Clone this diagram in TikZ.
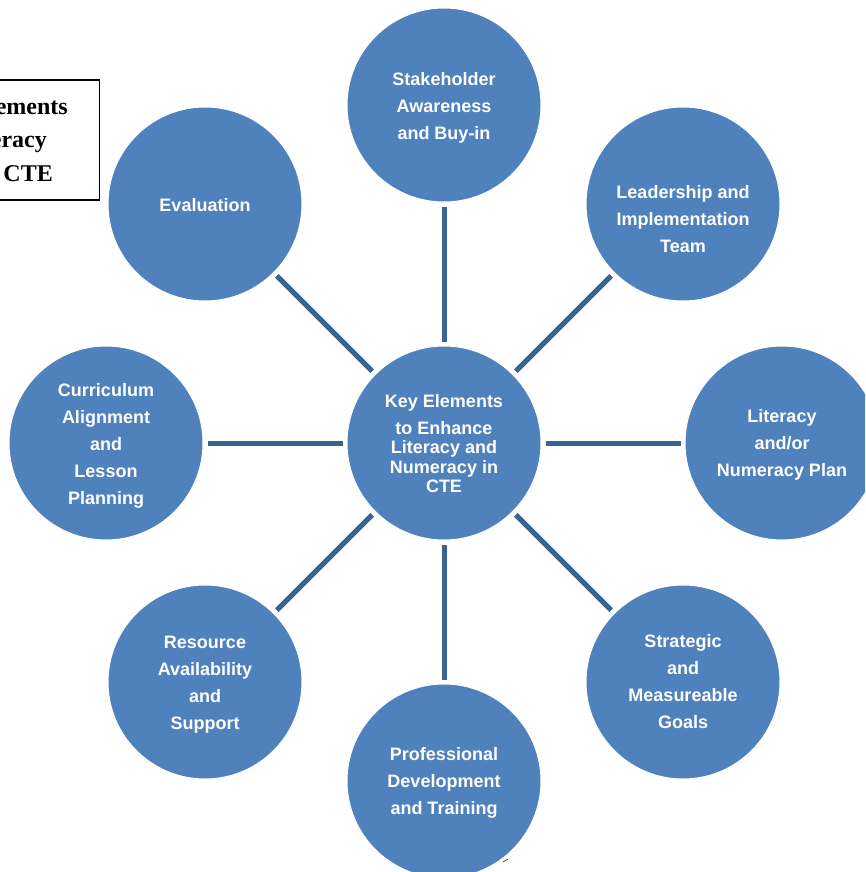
\documentclass[tikz,border=0pt]{standalone}
\usepackage{fontspec}
\setsansfont{Liberation Sans}
\newfontfamily\boxfont{Liberation Serif}
\definecolor{bubblefill}{RGB}{79,129,189}
\definecolor{spokecol}{RGB}{58,99,149}
\tikzset{
  bubble/.style={circle, fill=bubblefill, draw=white, line width=1pt,
    minimum size=194pt, inner sep=0pt},
  bubbletext/.style={text=white, align=center, inner sep=0pt,
    font=\sffamily\bfseries\fontsize{18}{27}\selectfont},
  hubtext/.style={font=\sffamily\bfseries\fontsize{18}{19.5}\selectfont},
  spokeline/.style={draw=spokecol, line width=5pt, shorten >=4pt, shorten <=4pt},
  titleline/.style={anchor=base east, inner sep=0pt,
    font=\boxfont\bfseries\fontsize{24}{24}\selectfont}
}
\begin{document}
\begin{tikzpicture}[x=1pt,y=-1pt]
\useasboundingbox (0,0) rectangle (865,872);
\clip (0,0) rectangle (865,872);

% title box, running off the left edge
\draw[line width=1.3pt] (-250,80) rectangle (99.5,200);
\node[titleline] (t1) at (68,114) {Key Elements};
\node[titleline] (t2) at (47,147) {Literacy};
\node[titleline] (t3) at (53,181) {in CTE};

% hub and surrounding circles
\node[bubble] (c)  at (444,443) {};
\node[bubble] (n1) at (444,105) {};
\node[bubble] (n2) at (683,204) {};
\node[bubble] (n3) at (782,443) {};
\node[bubble] (n4) at (683,682) {};
\node[bubble] (n5) at (444,781) {};
\node[bubble] (n6) at (205,682) {};
\node[bubble] (n7) at (106,443) {};
\node[bubble] (n8) at (205,204) {};

% their labels
\node[bubbletext, hubtext] (ct) at ([yshift=-0.5pt]c.center) {Key Elements\\[7.5pt]to Enhance\\Literacy and\\Numeracy in\\CTE};
\node[bubbletext] (n1t) at ([yshift=-3pt]n1.center) {Stakeholder\\Awareness\\and Buy-in};
\node[bubbletext] (n2t) at ([yshift=-15pt]n2.center) {Leadership and\\Implementation\\Team};
\node[bubbletext] (n3t) at ([yshift=-2pt]n3.center) {Literacy\\and/or\\Numeracy Plan};
\node[bubbletext] (n4t) at (n4.center) {Strategic\\and\\Measureable\\Goals};
\node[bubbletext] (n5t) at ([yshift=-2pt]n5.center) {Professional\\Development\\and Training};
\node[bubbletext] (n6t) at ([yshift=-3pt]n6.center) {Resource\\Availability\\and\\Support};
\node[bubbletext] (n7t) at ([yshift=-3pt]n7.center) {Curriculum\\Alignment\\and\\Lesson\\Planning};
\node[bubbletext] (n8t) at ([yshift=-1pt]n8.center) {Evaluation};

% spokes
\foreach \n in {n1,n2,n3,n4,n5,n6,n7,n8}
  \draw[spokeline] (c) -- (\n);

% small stray mark below the lower circle
\coordinate (m1) at (503,862);
\coordinate (m2) at (508,859);
\draw[gray!60!black, line width=0.8pt] (m1) -- (m2);
\end{tikzpicture}
\end{document}
